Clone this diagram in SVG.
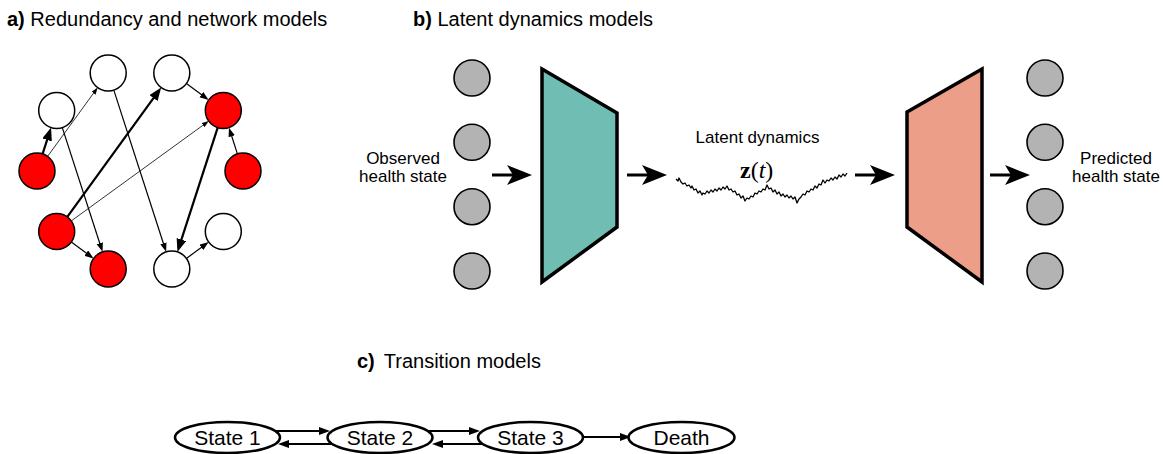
<svg xmlns="http://www.w3.org/2000/svg" width="1163" height="454" viewBox="0 0 1163 454">
<style>
  text { font-family: "Liberation Sans", Arial, Helvetica, sans-serif; fill: #000; }
  .title { font-size: 20px; }
  .lbl { font-size: 17px; }
  .st { font-size: 21px; text-anchor: middle; }
  .red { fill: #ff0000; stroke: #000; stroke-width: 1.5; }
  .white { fill: #ffffff; stroke: #000; stroke-width: 1.5; }
  .gray { fill: #b3b3b3; stroke: #000; stroke-width: 1.6; }
  .trap { stroke: #000; stroke-width: 3.5; stroke-linejoin: miter; }
  .ell { fill: #fff; stroke: #000; stroke-width: 2.5; }
  .thick { stroke: #000; stroke-width: 2.2; fill: none; marker-end: url(#hThick); }
  .med { stroke: #000; stroke-width: 1.2; fill: none; marker-end: url(#hMed); }
  .thin { stroke: #000; stroke-width: 0.8; fill: none; marker-end: url(#hThin); }
  .big { stroke: #000; stroke-width: 3; fill: none; marker-end: url(#hBig); }
  .carr { stroke: #000; stroke-width: 2; fill: none; marker-end: url(#hC); }
</style>
<defs>
  <marker id="hThick" markerUnits="userSpaceOnUse" markerWidth="13" markerHeight="10" refX="3" refY="5" orient="auto">
    <path d="M0,0 L13,5 L0,10 z" fill="#000"/>
  </marker>
  <marker id="hMed" markerUnits="userSpaceOnUse" markerWidth="9" markerHeight="7" refX="2" refY="3.25" orient="auto">
    <path d="M0,0 L9,3.25 L0,6.5 z" fill="#000"/>
  </marker>
  <marker id="hThin" markerUnits="userSpaceOnUse" markerWidth="7" markerHeight="5" refX="2" refY="2.5" orient="auto">
    <path d="M0,0 L7,2.5 L0,5 z" fill="#000"/>
  </marker>
  <marker id="hBig" markerUnits="userSpaceOnUse" markerWidth="25" markerHeight="20" refX="8" refY="10" orient="auto">
    <path d="M0,0 L25,10 L0,20 L6,10 z" fill="#000"/>
  </marker>
  <marker id="hC" markerUnits="userSpaceOnUse" markerWidth="11" markerHeight="8" refX="4" refY="4" orient="auto">
    <path d="M0,0 L11,4 L0,8 z" fill="#000"/>
  </marker>
</defs>

<rect width="1163" height="454" fill="#fff"/>

<!-- titles -->
<text class="title" x="7" y="26"><tspan font-weight="bold">a)</tspan> Redundancy and network models</text>
<text class="title" x="413" y="26"><tspan font-weight="bold">b)</tspan> Latent dynamics models</text>
<text class="title" x="357" y="368"><tspan font-weight="bold">c)</tspan><tspan dx="9">Transition models</tspan></text>

<!-- panel a connectors -->
<g id="connectors-a">
  <line class="thick" x1="42.6" y1="153.9" x2="48.0" y2="137.1"/>
  <line class="thin" x1="47.6" y1="156.4" x2="94.7" y2="91.6"/>
  <line class="med" x1="62.3" y1="127.6" x2="100.4" y2="245.2"/>
  <line class="med" x1="113.8" y1="90.1" x2="164.0" y2="245.2"/>
  <line class="med" x1="186.4" y1="83.6" x2="203.0" y2="95.8"/>
  <line class="thick" x1="67.3" y1="216.9" x2="155.3" y2="95.7"/>
  <line class="thin" x1="71.3" y1="220.9" x2="204.7" y2="124.0"/>
  <line class="med" x1="71.3" y1="242.1" x2="87.9" y2="254.3"/>
  <line class="thick" x1="217.7" y1="127.6" x2="180.5" y2="242.4"/>
  <line class="med" x1="237.4" y1="153.9" x2="231.1" y2="134.3"/>
  <line class="med" x1="186.4" y1="258.4" x2="203.0" y2="246.2"/>
</g>

<!-- panel a nodes -->
<g id="a-n1"><circle class="white" cx="56.7" cy="110.5" r="18"/></g>
<g id="a-n2"><circle class="white" cx="108.2" cy="73" r="18"/></g>
<g id="a-n3"><circle class="white" cx="171.8" cy="73" r="18"/></g>
<g id="a-n4"><circle class="red" cx="223.3" cy="110.5" r="18"/></g>
<g id="a-n5"><circle class="red" cx="37" cy="171" r="18"/></g>
<g id="a-n6"><circle class="red" cx="243" cy="171" r="18"/></g>
<g id="a-n7"><circle class="red" cx="56.7" cy="231.5" r="18"/></g>
<g id="a-n8"><circle class="white" cx="223.3" cy="231.5" r="18"/></g>
<g id="a-n9"><circle class="red" cx="108.2" cy="269" r="18"/></g>
<g id="a-n10"><circle class="white" cx="171.8" cy="269" r="18"/></g>

<!-- panel b -->
<g id="b-input">
  <circle class="gray" cx="472" cy="78" r="18"/>
  <circle class="gray" cx="472" cy="142.3" r="18"/>
  <circle class="gray" cx="472" cy="206.7" r="18"/>
  <circle class="gray" cx="472" cy="271" r="18"/>
</g>
<g id="b-observed-label">
  <text class="lbl" x="403" y="164" text-anchor="middle">Observed</text>
  <text class="lbl" x="403" y="182" text-anchor="middle">health state</text>
</g>
<g id="b-encoder"><polygon class="trap" fill="#6fbdb3" points="542,69 617,113 617,227 542,282"/></g>
<g id="b-latent">
  <text class="lbl" x="757.5" y="143" text-anchor="middle">Latent dynamics</text>
  <text x="740" y="178" style="font-family:'Liberation Serif','Times New Roman',serif;font-size:24px"><tspan font-weight="bold">z</tspan>(<tspan font-style="italic">t</tspan>)</text>
  <path fill="none" stroke="#000" stroke-width="1.3" stroke-linejoin="round" d="M676,179 L678,181 L679,178 L681,182 L683,184 L685,183 L687,186 L689,185 L691,188 L692,186 L694,190 L696,189 L698,193 L700,191 L702,195 L703,193 L705,194 L707,191 L709,193 L711,190 L713,192 L715,189 L717,191 L719,188 L721,190 L723,187 L725,189 L727,186 L729,190 L731,189 L733,192 L735,191 L737,195 L739,194 L741,198 L743,196 L745,201 L747,198 L749,199 L751,196 L753,197 L755,193 L757,194 L759,191 L761,192 L763,189 L765,190 L767,185 L769,189 L771,188 L773,192 L775,190 L777,194 L779,192 L781,196 L783,194 L785,197 L787,195 L789,198 L791,196 L793,199 L795,197 L797,203 L799,199 L801,197 L803,194 L805,195 L807,191 L809,192 L811,189 L813,190 L815,186 L817,188 L819,184 L821,185 L823,180 L825,183 L827,180 L829,181 L831,178 L833,180 L835,177 L837,179 L839,175 L841,177 L843,174 L845,176 L847,173"/>
</g>
<g id="b-decoder"><polygon class="trap" fill="#ec9e88" points="907,112 982,69 982,282 907,227"/></g>
<g id="b-output">
  <circle class="gray" cx="1045" cy="78" r="18"/>
  <circle class="gray" cx="1045" cy="142.3" r="18"/>
  <circle class="gray" cx="1045" cy="206.7" r="18"/>
  <circle class="gray" cx="1045" cy="271" r="18"/>
</g>
<g id="b-predicted-label">
  <text class="lbl" x="1116" y="164" text-anchor="middle">Predicted</text>
  <text class="lbl" x="1116" y="182" text-anchor="middle">health state</text>
</g>
<g id="connectors-b">
  <line class="big" x1="492" y1="175" x2="515" y2="175"/>
  <line class="big" x1="627" y1="175" x2="650" y2="175"/>
  <line class="big" x1="855" y1="175" x2="878" y2="175"/>
  <line class="big" x1="990" y1="175" x2="1013" y2="175"/>
</g>

<!-- panel c -->
<g id="connectors-c">
  <line class="carr" x1="276" y1="431" x2="323" y2="431"/>
  <line class="carr" x1="332" y1="444" x2="285" y2="444"/>
  <line class="carr" x1="428" y1="431" x2="473" y2="431"/>
  <line class="carr" x1="482" y1="444" x2="439" y2="444"/>
  <line class="carr" x1="583" y1="437" x2="624" y2="437"/>
</g>
<g id="c-state1"><ellipse class="ell" cx="227.5" cy="437.5" rx="52.5" ry="15.5"/><text class="st" x="227.5" y="445">State 1</text></g>
<g id="c-state2"><ellipse class="ell" cx="380" cy="437.5" rx="52.5" ry="15.5"/><text class="st" x="380" y="445">State 2</text></g>
<g id="c-state3"><ellipse class="ell" cx="530.5" cy="437.5" rx="52.5" ry="15.5"/><text class="st" x="530.5" y="445">State 3</text></g>
<g id="c-death"><ellipse class="ell" cx="681.5" cy="437.5" rx="53" ry="15.5"/><text class="st" x="681.5" y="445">Death</text></g>
</svg>
